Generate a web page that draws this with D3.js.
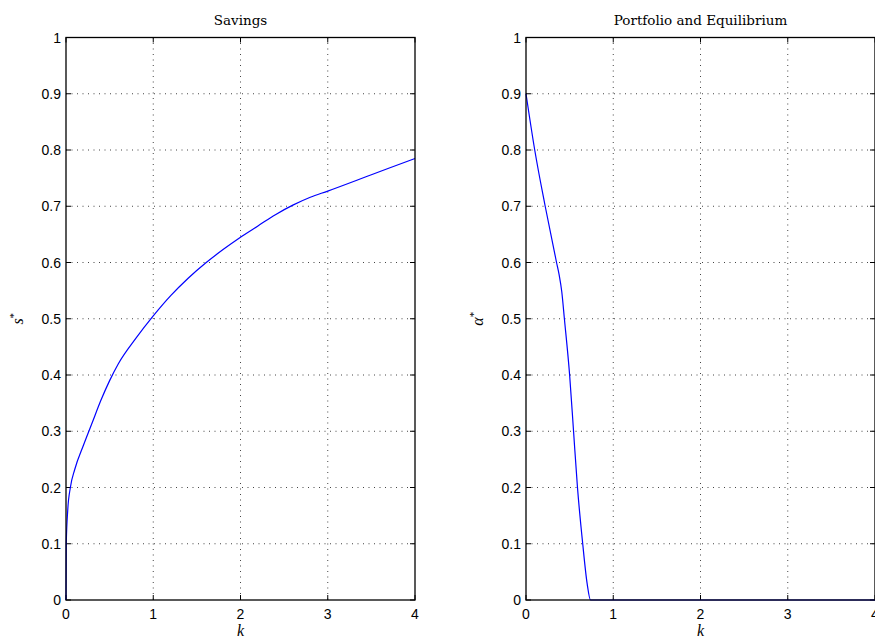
<!DOCTYPE html>
<html>
<head>
<meta charset="utf-8">
<script src="https://cdn.jsdelivr.net/npm/d3@7"></script>
<style>
  body { margin: 0; background: #fff; }
  svg { display: block; }
  .tick-label { font-family: "Liberation Sans", Arial, sans-serif; font-size: 14px; fill: #000; }
  .panel-title { font-family: "DejaVu Serif", serif; font-size: 13.5px; fill: #000; }
  .axis-label { font-family: "Liberation Serif", "DejaVu Serif", serif; font-size: 16px; font-style: italic; fill: #000; }
</style>
</head>
<body>
<div id="chart"></div>
<script>
// savings policy s*(k)
const savingsK = [0, 0.003, 0.02, 0.05, 0.1, 0.2, 0.3, 0.4, 0.5, 0.6, 0.8, 1.0, 1.2, 1.4, 1.6, 1.8, 2.0, 2.2, 2.4, 2.6, 2.8, 3.0, 3.5, 4.0];
const savingsS = [0, 0.1, 0.16, 0.2, 0.232, 0.275, 0.315, 0.355, 0.39, 0.42, 0.465, 0.505, 0.541, 0.572, 0.599, 0.623, 0.645, 0.665, 0.685, 0.702, 0.716, 0.727, 0.756, 0.785];

// portfolio share alpha*(k)
const portfolioK = [0, 0.1, 0.22, 0.35, 0.38, 0.41, 0.44, 0.5, 0.545, 0.59, 0.65, 0.7, 0.74, 1, 2, 3, 4];
const portfolioA = [0.9, 0.8, 0.7, 0.6, 0.578, 0.548, 0.5, 0.4, 0.3, 0.2, 0.1, 0.03, 0, 0, 0, 0, 0];

const xTicks = [0, 1, 2, 3, 4];
const yTicks = [0, 0.1, 0.2, 0.3, 0.4, 0.5, 0.6, 0.7, 0.8, 0.9, 1];

const panels = [
  { title: "Savings", ylab: "s", left: 66, xs: savingsK, ys: savingsS },
  { title: "Portfolio and Equilibrium", ylab: "\u03B1", left: 526, xs: portfolioK, ys: portfolioA }
];

const W = 875, H = 639;
const plotTop = 37.5, plotBottom = 600, pw = 349;

const svg = d3.select("#chart").append("svg")
  .attr("width", W)
  .attr("height", H);

panels.forEach(p => {
  const x = d3.scaleLinear().domain([0, 4]).range([p.left, p.left + pw]);
  const y = d3.scaleLinear().domain([0, 1]).range([plotBottom, plotTop]);
  const g = svg.append("g");

  // dotted grid
  g.selectAll(".gx").data(xTicks.slice(1, -1)).enter().append("line")
    .attr("x1", d => x(d)).attr("x2", d => x(d))
    .attr("y1", plotTop).attr("y2", plotBottom)
    .attr("stroke", "#444").attr("stroke-width", 1)
    .attr("stroke-dasharray", "1,4.5");
  g.selectAll(".gy").data(yTicks.slice(1, -1)).enter().append("line")
    .attr("x1", p.left).attr("x2", p.left + pw)
    .attr("y1", d => y(d)).attr("y2", d => y(d))
    .attr("stroke", "#444").attr("stroke-width", 1)
    .attr("stroke-dasharray", "1,4.5");

  // inward ticks on all four sides
  const tl = 5;
  g.selectAll(".tb").data(xTicks).enter().append("path")
    .attr("d", d => `M${x(d)},${plotBottom}v${-tl}M${x(d)},${plotTop}v${tl}`)
    .attr("stroke", "#000").attr("stroke-width", 1);
  g.selectAll(".tl").data(yTicks).enter().append("path")
    .attr("d", d => `M${p.left},${y(d)}h${tl}M${p.left + pw},${y(d)}h${-tl}`)
    .attr("stroke", "#000").attr("stroke-width", 1);

  // curve
  const line = d3.line()
    .x(d => x(d[0]))
    .y(d => y(d[1]))
    .curve(d3.curveMonotoneX);
  g.append("path")
    .datum(d3.zip(p.xs, p.ys))
    .attr("d", line)
    .attr("fill", "none")
    .attr("stroke", "#0000ff")
    .attr("stroke-width", 1.2);

  // box
  g.append("rect")
    .attr("x", p.left).attr("y", plotTop)
    .attr("width", pw).attr("height", plotBottom - plotTop)
    .attr("fill", "none").attr("stroke", "#000").attr("stroke-width", 1.3);

  // tick labels
  g.selectAll(".xl").data(xTicks).enter().append("text")
    .attr("class", "tick-label")
    .attr("x", d => x(d)).attr("y", plotBottom + 19)
    .attr("text-anchor", "middle")
    .text(d => d);
  g.selectAll(".yl").data(yTicks).enter().append("text")
    .attr("class", "tick-label")
    .attr("x", p.left - 5).attr("y", d => y(d) + 5)
    .attr("text-anchor", "end")
    .text(d => d);

  // titles
  g.append("text")
    .attr("class", "panel-title")
    .attr("x", p.left + pw / 2).attr("y", 25)
    .attr("text-anchor", "middle")
    .text(p.title);

  g.append("text")
    .attr("class", "axis-label")
    .attr("x", p.left + pw / 2).attr("y", 636)
    .attr("text-anchor", "middle")
    .text("k");

  const yl = g.append("text")
    .attr("class", "axis-label")
    .attr("transform", `translate(${p.left - 43},${y(0.5)}) rotate(-90)`)
    .attr("text-anchor", "middle");
  yl.append("tspan").text(p.ylab);
  yl.append("tspan").attr("dy", -6).attr("font-size", 11).attr("font-style", "normal").text("*");
});
</script>
</body>
</html>
